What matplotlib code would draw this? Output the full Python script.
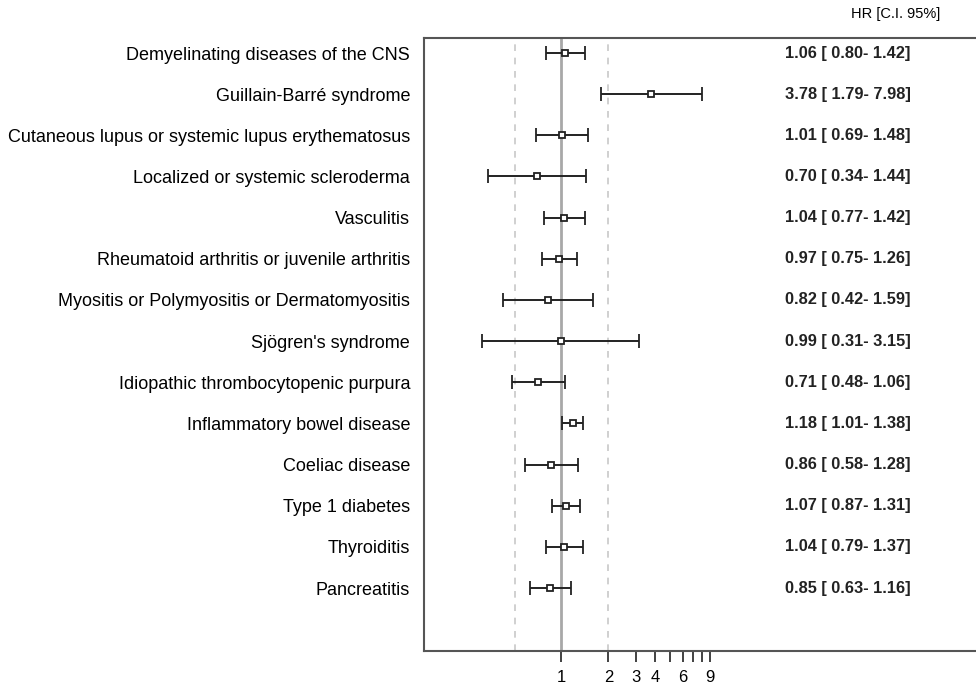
import numpy as np
import matplotlib
matplotlib.use("Agg")
import matplotlib.pyplot as plt
from matplotlib.ticker import FixedLocator, NullLocator

plt.rcParams['font.family'] = ['Liberation Sans', 'DejaVu Sans']

diseases = [
    "Demyelinating diseases of the CNS",
    "Guillain-Barré syndrome",
    "Cutaneous lupus or systemic lupus erythematosus",
    "Localized or systemic scleroderma",
    "Vasculitis",
    "Rheumatoid arthritis or juvenile arthritis",
    "Myositis or Polymyositis or Dermatomyositis",
    "Sjögren's syndrome",
    "Idiopathic thrombocytopenic purpura",
    "Inflammatory bowel disease",
    "Coeliac disease",
    "Type 1 diabetes",
    "Thyroiditis",
    "Pancreatitis",
]
hr = [1.06, 3.78, 1.01, 0.70, 1.04, 0.97, 0.82, 0.99, 0.71, 1.18, 0.86, 1.07, 1.04, 0.85]
ci_low = [0.80, 1.79, 0.69, 0.34, 0.77, 0.75, 0.42, 0.31, 0.48, 1.01, 0.58, 0.87, 0.79, 0.63]
ci_high = [1.42, 7.98, 1.48, 1.44, 1.42, 1.26, 1.59, 3.15, 1.06, 1.38, 1.28, 1.31, 1.37, 1.16]

tick_vals = [1, 2, 3, 4, 5, 6, 7, 8, 9]
tick_labels = ["1", "2", "3", "4", "", "6", "", "", "9"]

fig = plt.figure(figsize=(9.76, 6.84), dpi=100)
ax = fig.add_axes([424 / 976, 1 - 651 / 684, 1 - 424 / 976 + 0.01, (651 - 38) / 684])

y = np.arange(len(diseases))
hr_a = np.array(hr)
lo = hr_a - np.array(ci_low)
hi = np.array(ci_high) - hr_a

# reference lines
ax.axvline(1, color="#a8a8a8", lw=2, zorder=1)
ax.axvline(0.5, color="#c8c8c8", lw=1.2, ls=(0, (4, 4)), zorder=1)
ax.axvline(2, color="#c8c8c8", lw=1.2, ls=(0, (4, 4)), zorder=1)

ax.errorbar(hr, y, xerr=[lo, hi], fmt="s", ms=5, mfc="white", mec="#222222",
            mew=1.3, ecolor="#222222", elinewidth=1.4, capsize=4.8, capthick=1.4, zorder=3)

ax.set_xscale("log")
ax.set_xlim(0.131, 531)
ax.set_ylim(14.53, -0.365)

ax.xaxis.set_major_locator(FixedLocator(tick_vals))
ax.xaxis.set_minor_locator(NullLocator())
ax.set_xticklabels(tick_labels, fontsize=12)
ax.tick_params(axis="x", length=8, width=1.3, color="#333333", pad=6)

ax.set_yticks(y)
ax.set_yticklabels(diseases, fontsize=13)
ax.tick_params(axis="y", length=0, pad=10)

for s in ["left", "top", "bottom"]:
    ax.spines[s].set_color("#555555")
    ax.spines[s].set_linewidth(1.5)
ax.spines["right"].set_visible(False)

# HR text column
for i in range(len(diseases)):
    ax.text(0.643, i, "%.2f [%5.2f-%5.2f]" % (hr[i], ci_low[i], ci_high[i]),
            transform=ax.get_yaxis_transform(), fontsize=11.8, fontweight="semibold",
            va="center", ha="left", color="#222222")

fig.text(896 / 976, 1 - 14 / 684, "HR [C.I. 95%]", fontsize=10.5, ha="center", va="center")

fig.savefig("out.png", dpi=100)
